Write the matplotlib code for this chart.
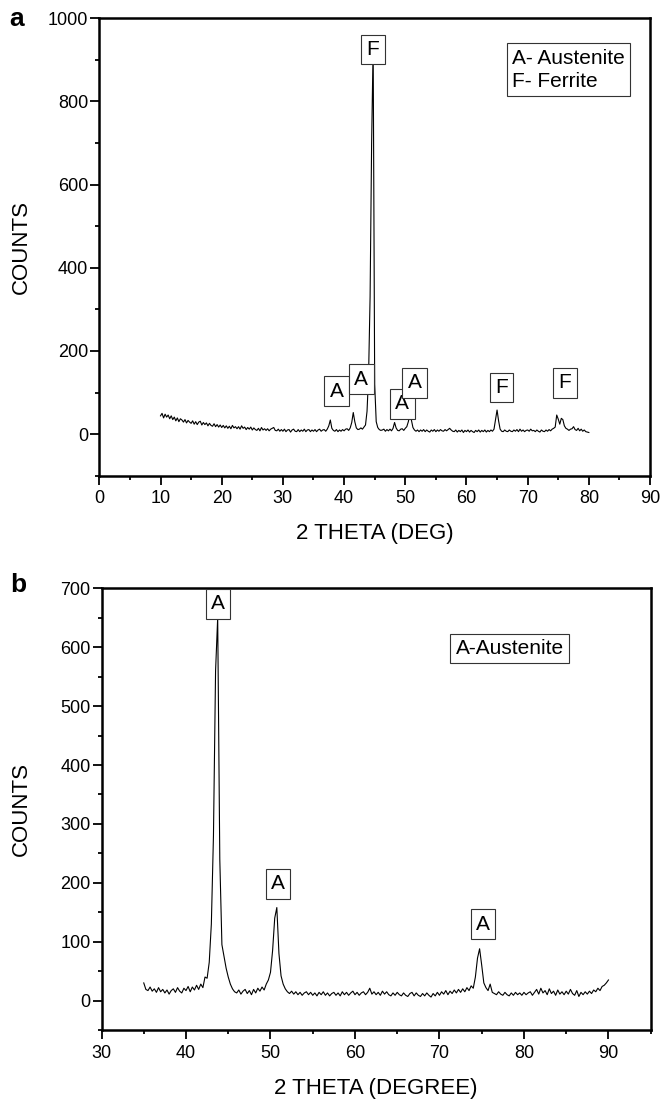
import matplotlib
matplotlib.use('Agg')
import matplotlib.pyplot as plt
from matplotlib.ticker import MultipleLocator
import numpy as np

plt.rcParams['font.family'] = ['Liberation Sans', 'DejaVu Sans']

# --- (a) as-received sample: 10-80 deg, 0.25 deg step ---
theta_a_start, theta_a_step = 10.0, 0.25
counts_a = [
    44, 50, 39, 48, 41, 46, 37, 44, 35, 41,
    32, 39, 30, 37, 34, 29, 35, 27, 33, 29,
    26, 32, 24, 30, 23, 29, 31, 22, 28, 23,
    27, 20, 26, 21, 19, 25, 18, 23, 17, 22,
    16, 21, 15, 20, 14, 19, 13, 21, 15, 18,
    13, 18, 12, 20, 14, 17, 11, 16, 12, 17,
    10, 15, 11, 9, 14, 8, 16, 10, 13, 9,
    13, 8, 12, 14, 16, 9, 8, 12, 7, 11,
    7, 12, 6, 10, 11, 5, 10, 12, 7, 6,
    11, 6, 10, 7, 12, 6, 10, 11, 6, 10,
    7, 11, 6, 10, 12, 7, 10, 11, 7, 12,
    20, 34, 14, 9, 7, 11, 6, 10, 7, 11,
    8, 12, 13, 9, 15, 28, 52, 30, 15, 11,
    12, 15, 12, 17, 22, 55, 140, 330, 700, 935,
    120, 30, 16, 11, 9, 10, 12, 7, 11, 8,
    12, 8, 14, 28, 15, 9, 8, 12, 13, 9,
    14, 18, 30, 48, 34, 16, 10, 7, 10, 6,
    10, 7, 11, 6, 10, 7, 5, 10, 7, 11,
    6, 10, 7, 11, 8, 7, 11, 8, 11, 14,
    10, 7, 6, 10, 5, 9, 6, 10, 4, 9,
    6, 10, 5, 9, 6, 4, 9, 6, 10, 5,
    9, 6, 10, 5, 9, 6, 10, 7, 12, 35,
    58, 32, 12, 7, 6, 10, 7, 6, 10, 7,
    6, 10, 7, 11, 6, 12, 7, 10, 6, 9,
    10, 7, 12, 8, 9, 6, 10, 7, 5, 10,
    7, 6, 10, 7, 11, 8, 12, 14, 17, 46,
    36, 24, 38, 35, 20, 14, 12, 9, 12, 13,
    18, 11, 9, 14, 8, 12, 7, 10, 6, 5,
    4,
]
# peak labels: (2theta, counts, phase)
labels_a = [(38.8, 103, 'A'), (42.8, 132, 'A'), (44.7, 925, 'F'),
            (49.5, 73, 'A'), (51.5, 123, 'A'), (65.7, 112, 'F'),
            (76.1, 123, 'F')]

# --- (b) treated sample: 35-90 deg, 0.25 deg step ---
theta_b_start, theta_b_step = 35.0, 0.25
counts_b = [
    30, 19, 17, 23, 16, 20, 14, 22, 15, 19,
    13, 18, 11, 17, 20, 14, 22, 16, 13, 21,
    17, 24, 15, 23, 18, 26, 19, 28, 22, 40,
    38, 65, 130, 280, 560, 650, 240, 95, 75, 55,
    40, 28, 20, 15, 13, 18, 11, 16, 19, 12,
    17, 10, 19, 13, 21, 16, 23, 18, 28, 35,
    48, 85, 140, 158, 80, 42, 28, 20, 15, 12,
    16, 11, 15, 10, 14, 9, 13, 15, 10, 14,
    9, 13, 8, 14, 10, 15, 9, 13, 8, 12,
    14, 9, 13, 8, 15, 10, 14, 9, 13, 16,
    10, 14, 9, 13, 15, 10, 14, 21, 11, 15,
    10, 14, 9, 16, 11, 15, 10, 8, 13, 9,
    14, 10, 8, 13, 9, 7, 12, 14, 8, 13,
    9, 7, 12, 8, 13, 9, 6, 12, 8, 14,
    9, 15, 11, 17, 10, 16, 12, 18, 13, 19,
    14, 20, 15, 22, 17, 25, 21, 40, 72, 88,
    60, 30, 22, 17, 28, 14, 12, 10, 15, 11,
    9, 14, 10, 8, 13, 9, 14, 10, 13, 9,
    14, 10, 13, 15, 9, 14, 19, 11, 21, 13,
    17, 10, 20, 12, 16, 9, 18, 11, 15, 10,
    16, 11, 19, 12, 9, 17, 7, 14, 10, 15,
    11, 16, 12, 18, 15, 21, 17, 24, 26, 30, 35,
]
labels_b = [(43.8, 674, 'A'), (50.9, 198, 'A'), (75.15, 130, 'A')]

theta_a = theta_a_start + theta_a_step * np.arange(len(counts_a))
theta_b = theta_b_start + theta_b_step * np.arange(len(counts_b))

box = dict(boxstyle='square,pad=0.26', facecolor='white', edgecolor='#333333', linewidth=0.8)


def style_axes(ax):
    for sp in ax.spines.values():
        sp.set_linewidth(1.8)
    ax.tick_params(which='both', direction='out', top=False, right=False,
                   labelsize=13, width=1.3, pad=1.5)
    ax.tick_params(which='major', length=6.5)
    ax.tick_params(which='minor', length=3.2)
    ax.tick_params(axis='x', pad=4)


fig = plt.figure(figsize=(6.6, 11.02), dpi=100)

# panel a
ax1 = fig.add_axes([0.1505, 0.5683, 0.8344, 0.4151])
ax1.plot(theta_a, counts_a, color='black', lw=0.8)
ax1.set_xlim(0, 90)
ax1.set_ylim(-100, 1000)
ax1.xaxis.set_major_locator(MultipleLocator(10))
ax1.xaxis.set_minor_locator(MultipleLocator(5))
ax1.yaxis.set_major_locator(MultipleLocator(200))
ax1.yaxis.set_minor_locator(MultipleLocator(100))
style_axes(ax1)
ax1.set_xlabel('2 THETA (DEG)', fontsize=16)
ax1.set_ylabel('COUNTS', fontsize=16)
ax1.xaxis.set_label_coords(0.5, -0.103)
ax1.yaxis.set_label_coords(-0.122, 0.5)
for x, y, s in labels_a:
    ax1.text(x, y, s, fontsize=15, ha='center', va='center', bbox=box)
ax1.text(76.7, 876, 'A- Austenite\nF- Ferrite', fontsize=15, ha='center', va='center',
         multialignment='left', linespacing=1.3,
         bbox=dict(boxstyle='square,pad=0.25', facecolor='white', edgecolor='#333333', linewidth=0.8))

# panel b
ax2 = fig.add_axes([0.1538, 0.0653, 0.8321, 0.4008])
ax2.plot(theta_b, counts_b, color='black', lw=0.8)
ax2.set_xlim(30, 95)
ax2.set_ylim(-50, 700)
ax2.xaxis.set_major_locator(MultipleLocator(10))
ax2.xaxis.set_minor_locator(MultipleLocator(5))
ax2.yaxis.set_major_locator(MultipleLocator(100))
ax2.yaxis.set_minor_locator(MultipleLocator(50))
style_axes(ax2)
ax2.set_xlabel('2 THETA (DEGREE)', fontsize=16)
ax2.set_ylabel('COUNTS', fontsize=16)
ax2.xaxis.set_label_coords(0.5, -0.109)
ax2.yaxis.set_label_coords(-0.127, 0.5)
for x, y, s in labels_b:
    ax2.text(x, y, s, fontsize=15, ha='center', va='center', bbox=box)
ax2.text(78.3, 598, 'A-Austenite', fontsize=15, ha='center', va='center',
         bbox=dict(boxstyle='square,pad=0.25', facecolor='white', edgecolor='#333333', linewidth=0.8))

fig.text(17 / 660, 1 - 19 / 1102, 'a', fontsize=19, weight='bold', ha='center', va='center')
fig.text(18 / 660, 1 - 585 / 1102, 'b', fontsize=19, weight='bold', ha='center', va='center')

fig.savefig('out.png', dpi=100)
